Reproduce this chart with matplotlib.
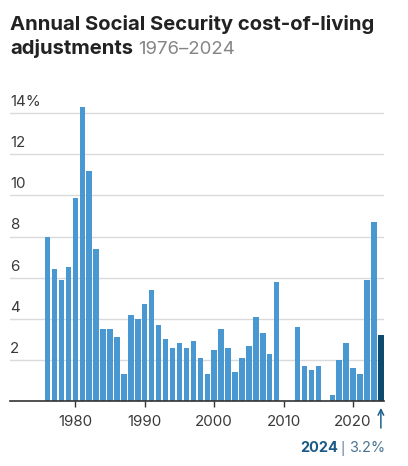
import matplotlib
matplotlib.use("Agg")
import matplotlib.pyplot as plt

years = list(range(1976, 2025))
cola = [8.0, 6.4, 5.9, 6.5, 9.9, 14.3, 11.2, 7.4, 3.5, 3.5, 3.1, 1.3, 4.2, 4.0, 4.7,
        5.4, 3.7, 3.0, 2.6, 2.8, 2.6, 2.9, 2.1, 1.3, 2.5, 3.5, 2.6, 1.4, 2.1, 2.7,
        4.1, 3.3, 2.3, 5.8, 0.0, 0.0, 3.6, 1.7, 1.5, 1.7, 0.0, 0.3, 2.0, 2.8, 1.6,
        1.3, 5.9, 8.7, 3.2]
y_ticks = [2, 4, 6, 8, 10, 12, 14]
y_labels = ["2", "4", "6", "8", "10", "12", "14%"]
x_ticks = [1980, 1990, 2000, 2010, 2020]
x_labels = ["1980", "1990", "2000", "2010", "2020"]

W, H = 408, 466
fig = plt.figure(figsize=(W / 100, H / 100), dpi=100)
fig.patch.set_facecolor("white")
FONT = "Inter"


def fit(txt, target_px, base=12, **kw):
    t = fig.text(0, 0, txt, fontsize=base, family=FONT, **kw)
    fig.canvas.draw()
    w = t.get_window_extent().width
    t.remove()
    return base * target_px / w


tick_fs = fit("1980", 34.5)
ax = fig.add_axes([10 / W, 65 / H, 374 / W, 298 / H])
colors = ["#4a98d2"] * (len(years) - 1) + ["#0e4a6e"]
ax.bar(years, cola, width=0.78, color=colors, zorder=3)
ax.set_xlim(1970.6, 2024.45)
ax.set_ylim(0, 14.5)

for t, lab in zip(y_ticks, y_labels):
    ax.axhline(t, color="#dadada", lw=1, zorder=1)
    ax.text(0, t + 0.2, lab, transform=ax.get_yaxis_transform(), ha="left", va="bottom",
            fontsize=tick_fs, color="#3a3a3a", family=FONT)

ax.set_yticks([])
for s in ["top", "right", "left"]:
    ax.spines[s].set_visible(False)
ax.spines["bottom"].set_color("#333333")
ax.spines["bottom"].set_linewidth(1.2)
ax.spines["bottom"].set_zorder(4)
ax.set_xticks(x_ticks)
ax.set_xticklabels(x_labels, family=FONT, fontsize=tick_fs, color="#3a3a3a")
ax.tick_params(axis="x", length=4, width=1, color="#333333", pad=6)

# annotation arrow for 2024
ax.annotate("", xy=(2024, -0.2), xytext=(2024, -1.45),
            xycoords="data", textcoords="data", annotation_clip=False,
            arrowprops=dict(arrowstyle="->", color="#1d5f8a", lw=1.1))

ann_fs = fit("2024", 38, fontweight="bold")
yy = 1 - 448 / H
fig.text(300 / W, yy, "2024", ha="left", va="center", fontsize=ann_fs,
         fontweight="bold", color="#1b5a86", family=FONT)
fig.text(343 / W, yy, "|", ha="center", va="center", fontsize=ann_fs * 0.9,
         color="#4d7390", family=FONT)
fig.text(385 / W, yy, "3.2%", ha="right", va="center", fontsize=ann_fs,
         color="#4d7390", family=FONT)

# title
title_fs = fit("Annual Social Security cost-of-living", 363, fontweight="bold")
fig.text(10 / W, 1 - 24 / H, "Annual Social Security cost-of-living", ha="left", va="center",
         fontsize=title_fs, fontweight="bold", color="#222222", family=FONT)
t2 = fig.text(10 / W, 1 - 49 / H, "adjustments", ha="left", va="center",
              fontsize=title_fs, fontweight="bold", color="#222222", family=FONT)
fig.canvas.draw()
bb = t2.get_window_extent()
fig.text(bb.x1 / W + 5 / W, 1 - 49 / H, "1976\u20132024", ha="left", va="center",
         fontsize=title_fs * 0.92, color="#858585", family=FONT)

fig.savefig("out.png", dpi=100)
